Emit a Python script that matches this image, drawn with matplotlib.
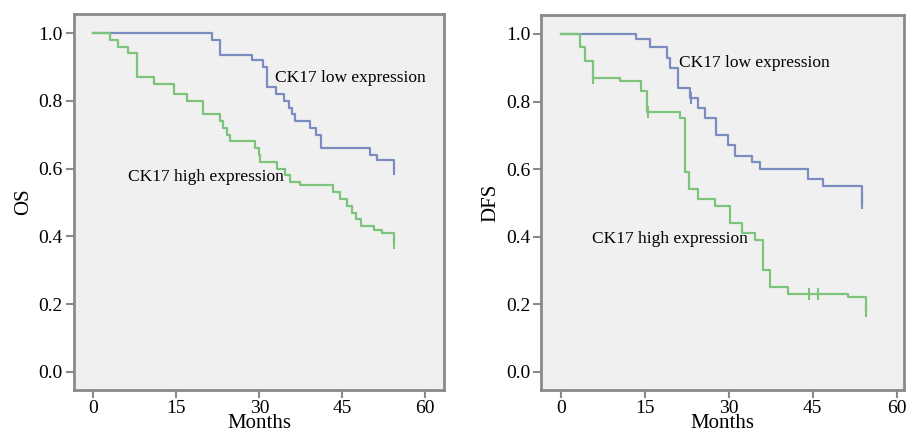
import matplotlib.pyplot as plt

plt.rcParams['font.family'] = ['Liberation Serif', 'DejaVu Serif']

# OS curves: times where the curve drops and the survival after each drop
os_low_t = [21.4, 22.9, 28.6, 30.7, 31.4, 33.1, 34.4, 35.3, 35.9, 36.4, 39.2, 40.3, 41.1, 50.1, 51.3, 54.3]
os_low_s = [0.98, 0.935, 0.92, 0.90, 0.84, 0.82, 0.80, 0.78, 0.76, 0.74, 0.72, 0.70, 0.66, 0.64, 0.625, 0.60]
os_low_cens = [(54.3, 0.60)]

os_high_t = [3.0, 4.5, 6.3, 7.8, 11.0, 14.5, 16.9, 19.9, 22.9, 23.5, 24.1, 24.7, 29.3, 29.9,
             30.2, 33.2, 34.7, 35.6, 37.4, 43.4, 44.6, 45.8, 46.8, 47.4, 48.3, 50.7, 52.2, 54.3]
os_high_s = [0.98, 0.96, 0.94, 0.87, 0.85, 0.82, 0.80, 0.76, 0.74, 0.72, 0.70, 0.68, 0.66, 0.64,
             0.62, 0.60, 0.58, 0.56, 0.55, 0.53, 0.51, 0.49, 0.47, 0.45, 0.43, 0.42, 0.41, 0.38]
os_high_cens = [(54.3, 0.38)]

# DFS curves
dfs_low_t = [13.4, 15.9, 18.9, 19.5, 21.0, 23.1, 24.6, 25.7, 27.8, 29.9, 31.1, 34.1, 35.6, 44.2, 46.9, 53.8]
dfs_low_s = [0.985, 0.96, 0.93, 0.90, 0.84, 0.81, 0.78, 0.75, 0.70, 0.67, 0.64, 0.62, 0.60, 0.57, 0.55, 0.50]
dfs_low_cens = [(23.3, 0.81), (53.8, 0.50)]

dfs_high_t = [3.4, 4.3, 5.7, 10.5, 14.4, 15.4, 21.3, 22.2, 22.9, 24.6, 27.5, 30.2, 32.3, 34.7,
              36.2, 37.4, 40.6, 51.4, 54.5]
dfs_high_s = [0.96, 0.92, 0.87, 0.86, 0.83, 0.77, 0.75, 0.59, 0.54, 0.51, 0.49, 0.44, 0.41, 0.39,
              0.30, 0.25, 0.23, 0.22, 0.18]
dfs_high_cens = [(5.7, 0.87), (15.6, 0.77), (44.4, 0.23), (46.0, 0.23), (54.5, 0.18)]

xticks = [0, 15, 30, 45, 60]
yticks = [0.0, 0.2, 0.4, 0.6, 0.8, 1.0]

BLUE = '#7b8cc0'
GREEN = '#7cc47c'


def km_curve(ax, times, surv, cens, color):
    xs = [0] + times
    ys = [1.0] + surv
    ax.step(xs, ys, where='post', color=color, lw=1.6)
    cx = [c[0] for c in cens]
    cy = [c[1] for c in cens]
    ax.plot(cx, cy, ls='none', marker='|', ms=8, mew=1.5, color=color)


def style_axes(ax, ylabel, xlim):
    ax.set_facecolor('#f0f0f0')
    for s in ax.spines.values():
        s.set_color('#8a8a8a')
        s.set_linewidth(2)
    ax.set_xlim(*xlim)
    ax.set_ylim(-0.054, 1.056)
    ax.set_xticks(xticks)
    ax.set_yticks(yticks)
    ax.set_yticklabels(['%.1f' % v for v in yticks])
    ax.tick_params(axis='y', length=6, width=1.5, color='#8a8a8a', labelsize=14, pad=2)
    ax.tick_params(axis='x', length=6, width=1.5, color='#8a8a8a', labelsize=14, pad=1)
    ax.set_xlabel('Months', fontsize=15, labelpad=-2)
    ax.set_ylabel(ylabel, fontsize=15, labelpad=4)


fig = plt.figure(figsize=(9.07, 4.32), dpi=100)
ax1 = fig.add_axes([0.0816, 0.0972, 0.408, 0.870])
ax2 = fig.add_axes([0.597, 0.0972, 0.3995, 0.868])

km_curve(ax1, os_low_t, os_low_s, os_low_cens, BLUE)
km_curve(ax1, os_high_t, os_high_s, os_high_cens, GREEN)
style_axes(ax1, 'OS', (-3.5, 63.4))
ax1.text(32.9, 0.868, 'CK17 low expression', fontsize=12.5, va='center')
ax1.text(6.3, 0.575, 'CK17 high expression', fontsize=12.5, va='center')

km_curve(ax2, dfs_low_t, dfs_low_s, dfs_low_cens, BLUE)
km_curve(ax2, dfs_high_t, dfs_high_s, dfs_high_cens, GREEN)
style_axes(ax2, 'DFS', (-3.45, 61.3))
ax2.text(21.1, 0.913, 'CK17 low expression', fontsize=12.5, va='center')
ax2.text(5.5, 0.392, 'CK17 high expression', fontsize=12.5, va='center')

fig.savefig('out.png', dpi=100)
